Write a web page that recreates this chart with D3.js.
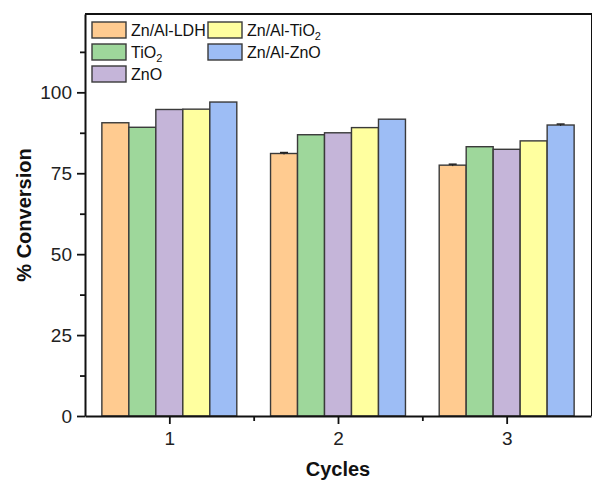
<!DOCTYPE html>
<html>
<head>
<meta charset="utf-8">
<script src="https://cdn.jsdelivr.net/npm/d3@7"></script>
<style>
  body { margin: 0; background: #fff; }
  svg { display: block; font-family: "Liberation Sans", Arial, sans-serif; }
</style>
</head>
<body>
<div id="chart"></div>
<script>
// values
var cycles = [1, 2, 3];
var seriesNames = ["Zn/Al-LDH", "TiO2", "ZnO", "Zn/Al-TiO2", "Zn/Al-ZnO"];
var seriesColors = ["#FFCB90", "#9ED79B", "#C5B5D9", "#FFFF9F", "#9DBDF5"];
var ldhVals = [90.6, 81.1, 77.5];
var tio2Vals = [89.2, 86.9, 83.2];
var znoVals = [94.7, 87.5, 82.4];
var znalTio2Vals = [94.8, 89.1, 85.0];
var znalZnoVals = [97.0, 91.7, 89.9];
var ldhErr = [0, 0.3, 0.3];
var tio2Err = [0, 0, 0];
var znoErr = [0, 0, 0];
var znalTio2Err = [0, 0, 0];
var znalZnoErr = [0, 0, 0.3];
var yTicks = [0, 25, 50, 75, 100];
var yMinor = [12.5, 37.5, 62.5, 87.5, 112.5];
var xMinor = [1.5, 2.5];

var allVals = [ldhVals, tio2Vals, znoVals, znalTio2Vals, znalZnoVals];
var allErr = [ldhErr, tio2Err, znoErr, znalTio2Err, znalZnoErr];

var width = 592, height = 480;
var mLeft = 85, mRight = 591, mTop = 14, mBottom = 416;

var svg = d3.select("#chart").append("svg")
  .attr("width", width)
  .attr("height", height);

var x = d3.scaleLinear().domain([0.5, 3.5]).range([mLeft, mRight]);
var y = d3.scaleLinear().domain([0, 124.2]).range([mBottom, mTop]);
var inner = d3.scaleBand().domain(seriesNames)
  .range([-(x(1.4) - x(1)), x(1.4) - x(1)]);

// bars
var rows = [];
seriesNames.forEach(function(name, s) {
  cycles.forEach(function(c, i) {
    rows.push({ s: s, name: name, c: c, v: allVals[s][i], e: allErr[s][i] });
  });
});

svg.append("g").selectAll("rect").data(rows).enter()
  .append("rect")
  .attr("x", function(d) { return x(d.c) + inner(d.name); })
  .attr("y", function(d) { return y(d.v); })
  .attr("width", inner.bandwidth())
  .attr("height", function(d) { return y(0) - y(d.v); })
  .attr("fill", function(d) { return seriesColors[d.s]; })
  .attr("stroke", "#3a3a3a")
  .attr("stroke-width", 1.4);

// tiny error caps
var errs = svg.append("g").selectAll("g").data(rows.filter(function(d) { return d.e > 0; }))
  .enter().append("g");
errs.append("line")
  .attr("x1", function(d) { return x(d.c) + inner(d.name) + inner.bandwidth() / 2; })
  .attr("x2", function(d) { return x(d.c) + inner(d.name) + inner.bandwidth() / 2; })
  .attr("y1", function(d) { return y(d.v + d.e); })
  .attr("y2", function(d) { return y(d.v - d.e); })
  .attr("stroke", "#222").attr("stroke-width", 1);
errs.append("line")
  .attr("x1", function(d) { return x(d.c) + inner(d.name) + inner.bandwidth() / 2 - 4; })
  .attr("x2", function(d) { return x(d.c) + inner(d.name) + inner.bandwidth() / 2 + 4; })
  .attr("y1", function(d) { return y(d.v + d.e); })
  .attr("y2", function(d) { return y(d.v + d.e); })
  .attr("stroke", "#222").attr("stroke-width", 1.5);

// axes
var yAxis = d3.axisLeft(y).tickValues(yTicks).tickSize(8).tickPadding(5).tickSizeOuter(0);
var gy = svg.append("g").attr("transform", "translate(" + mLeft + ",0)").call(yAxis)
  .attr("font-size", 19).attr("font-family", null);
gy.selectAll("text").attr("fill", "#222");

var yAxisMinor = d3.axisLeft(y).tickValues(yMinor).tickSize(5).tickFormat("").tickSizeOuter(0);
svg.append("g").attr("transform", "translate(" + mLeft + ",0)").call(yAxisMinor)
  .select(".domain").remove();

var xAxis = d3.axisBottom(x).tickValues(cycles).tickSize(8).tickPadding(8).tickSizeOuter(0)
  .tickFormat(d3.format("d"));
var gx = svg.append("g").attr("transform", "translate(0," + mBottom + ")").call(xAxis)
  .attr("font-size", 19).attr("font-family", null);
gx.selectAll("text").attr("fill", "#222");

var xAxisMinor = d3.axisBottom(x).tickValues(xMinor).tickSize(5).tickFormat("").tickSizeOuter(0);
svg.append("g").attr("transform", "translate(0," + mBottom + ")").call(xAxisMinor)
  .select(".domain").remove();

svg.selectAll(".domain").attr("stroke", "#111").attr("stroke-width", 2);
svg.selectAll(".tick line").attr("stroke", "#111").attr("stroke-width", 1.8);

// frame top and right (right edge sits at the picture border)
svg.append("line").attr("x1", mLeft).attr("x2", width).attr("y1", mTop).attr("y2", mTop)
  .attr("stroke", "#111").attr("stroke-width", 2);
svg.append("line").attr("x1", width).attr("x2", width).attr("y1", mTop).attr("y2", mBottom)
  .attr("stroke", "#111").attr("stroke-width", 2);

// axis titles
svg.append("text")
  .attr("transform", "translate(31," + ((mTop + mBottom) / 2) + ")rotate(-90)")
  .attr("text-anchor", "middle")
  .attr("font-size", 20).attr("font-weight", "bold").attr("fill", "#111")
  .text("% Conversion");

svg.append("text")
  .attr("x", (mLeft + mRight) / 2).attr("y", 476)
  .attr("text-anchor", "middle")
  .attr("font-size", 20).attr("font-weight", "bold").attr("fill", "#111")
  .text("Cycles");

// legend
var legendX = [92, 208];
var legendY = [22, 44, 66];
var legend = svg.append("g");
seriesNames.forEach(function(name, s) {
  var col = s < 3 ? 0 : 1;
  var row = s < 3 ? s : s - 3;
  var lx = legendX[col], ly = legendY[row];
  legend.append("rect")
    .attr("x", lx).attr("y", ly).attr("width", 34).attr("height", 16)
    .attr("fill", seriesColors[s]).attr("stroke", "#3a3a3a").attr("stroke-width", 1.4);
  var t = legend.append("text")
    .attr("x", lx + 39).attr("y", ly + 14)
    .attr("font-size", 16).attr("fill", "#111");
  if (/O2$/.test(name)) {
    t.append("tspan").text(name.slice(0, -1));
    t.append("tspan").attr("font-size", 11).attr("dy", 4).text("2");
  } else {
    t.text(name);
  }
});
</script>
</body>
</html>
